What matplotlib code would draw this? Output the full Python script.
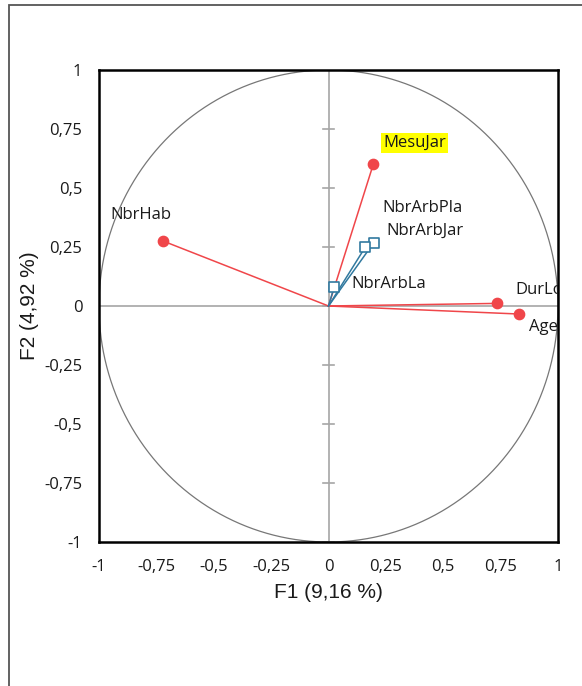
import numpy as np
import matplotlib.pyplot as plt
from matplotlib.patches import Rectangle

# variables (cercle des corrélations)
red_names = ['MesuJar', 'NbrHab', 'DurLog', 'Age']
red_f1 = [0.195, -0.72, 0.733, 0.83]
red_f2 = [0.60, 0.275, 0.011, -0.034]

blue_names = ['NbrArbPla', 'NbrArbJar', 'NbrArbLa']
blue_f1 = [0.197, 0.16, 0.025]
blue_f2 = [0.268, 0.249, 0.082]

# position des étiquettes (coin gauche)
label_pos = {
    'MesuJar': (0.237, 0.69),
    'NbrHab': (-0.95, 0.385),
    'DurLog': (0.815, 0.068),
    'Age': (0.872, -0.09),
    'NbrArbPla': (0.233, 0.415),
    'NbrArbJar': (0.25, 0.318),
    'NbrArbLa': (0.10, 0.093),
}

ticks = [-1, -0.75, -0.5, -0.25, 0, 0.25, 0.5, 0.75, 1]
tick_labels = ['-1', '-0,75', '-0,5', '-0,25', '0', '0,25', '0,5', '0,75', '1']

RED = '#f0464a'
BLUE = '#31799f'
TXT = '#1a1a1a'

fig = plt.figure(figsize=(5.82, 6.86), dpi=100)
ax = fig.add_axes([99 / 582, 1 - 542 / 686, 459 / 582, 472 / 686])

# cadre extérieur (coupé à droite et en bas)
fig.add_artist(Rectangle((9 / 582, -0.2), 1.5, 1.2 - 5 / 686, transform=fig.transFigure,
                         fill=False, edgecolor='#555555', lw=1.3))

# cercle
t = np.linspace(0, 2 * np.pi, 400)
ax.plot(np.cos(t), np.sin(t), color='#777777', lw=0.9)

# axes centraux + graduations (seulement sur l'axe vertical)
ax.axhline(0, color='#a6a6a6', lw=1.2, zorder=1)
ax.axvline(0, color='#a6a6a6', lw=1.2, zorder=1)
for v in ticks:
    ax.plot([-0.025, 0.025], [v, v], color='#a6a6a6', lw=1.2, zorder=1)

# vecteurs
for x, y in zip(red_f1, red_f2):
    ax.plot([0, x], [0, y], color=RED, lw=1.1, zorder=3)
ax.scatter(red_f1, red_f2, s=55, color=RED, zorder=4)

for x, y in zip(blue_f1, blue_f2):
    ax.plot([0, x], [0, y], color=BLUE, lw=1.1, zorder=3)
ax.scatter(blue_f1, blue_f2, s=50, marker='s', facecolor='white',
           edgecolor=BLUE, linewidths=1.2, zorder=4)

for name, (lx, ly) in label_pos.items():
    kw = {}
    if name == 'MesuJar':
        kw['bbox'] = dict(facecolor='#ffff00', edgecolor='none', pad=1.5)
    ax.text(lx, ly, name, fontsize=12, family='Open Sans', color=TXT,
            ha='left', va='center', clip_on=True, **kw)

ax.set_xlim(-1, 1)
ax.set_ylim(-1, 1)
ax.set_xticks(ticks)
ax.set_xticklabels(tick_labels)
ax.set_yticks(ticks)
ax.set_yticklabels(tick_labels)
ax.tick_params(length=0, labelsize=12, pad=12, labelcolor=TXT)
for lab in ax.get_xticklabels() + ax.get_yticklabels():
    lab.set_family('Open Sans')
for s in ax.spines.values():
    s.set_linewidth(1.8)
    s.set_color('black')

ax.set_xlabel('F1 (9,16 %)', fontsize=15, family='Liberation Sans', color=TXT, labelpad=6)
ax.set_ylabel('F2 (4,92 %)', fontsize=15, family='Liberation Sans', color=TXT, labelpad=4)

fig.savefig('out.png', dpi=100)
